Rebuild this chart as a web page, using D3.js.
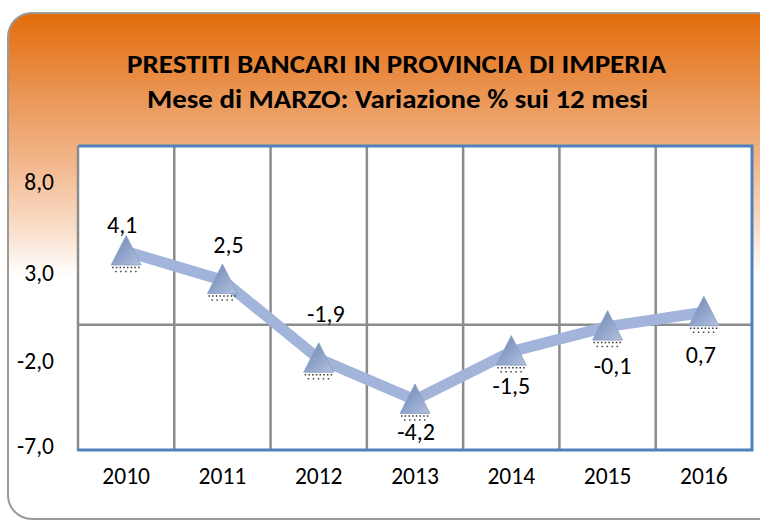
<!DOCTYPE html>
<html>
<head>
<meta charset="utf-8">
<script src="https://cdn.jsdelivr.net/npm/d3@7"></script>
<style>
  html, body { margin: 0; padding: 0; background: #ffffff; }
  svg { display: block; }
</style>
</head>
<body>
<svg id="chart" width="760" height="525"></svg>
<script>
// Annual change (%) of bank loans, month of March
const years = ["2010", "2011", "2012", "2013", "2014", "2015", "2016"];
const values = [4.1, 2.5, -1.9, -4.2, -1.5, -0.1, 0.7];
const yTicks = [-7, -2, 3, 8];
const titleLines = ["PRESTITI BANCARI IN PROVINCIA DI IMPERIA", "Mese di MARZO: Variazione % sui 12 mesi"];

// Data label placement relative to each point (layout only)
const labelDx = [-4, 6, 7, 1, 0, 5, -3];
const labelDy = [-19, -27, -37, 40, 42, 47, 51];

const svg = d3.select("#chart");
const fmt = v => d3.format(".1f")(v).replace(".", ",").replace("−", "-");
const FONT = "Carlito, Calibri, 'Liberation Sans', sans-serif";

const defs = svg.append("defs");
const bg = defs.append("linearGradient").attr("id", "bg").attr("x1", 0).attr("y1", 0).attr("x2", 0).attr("y2", 1);
bg.append("stop").attr("offset", "0").attr("stop-color", "#e36c0b");
bg.append("stop").attr("offset", "0.18").attr("stop-color", "#eb9a5c");
bg.append("stop").attr("offset", "0.30").attr("stop-color", "#f2b88d");
bg.append("stop").attr("offset", "0.42").attr("stop-color", "#f9dcc6");
bg.append("stop").attr("offset", "0.52").attr("stop-color", "#ffffff");
bg.append("stop").attr("offset", "1").attr("stop-color", "#ffffff");

const tri = defs.append("linearGradient").attr("id", "tri").attr("x1", 0).attr("y1", 0).attr("x2", 1).attr("y2", 1);
tri.append("stop").attr("offset", "0").attr("stop-color", "#6c84b1");
tri.append("stop").attr("offset", "0.5").attr("stop-color", "#8ea3c9");
tri.append("stop").attr("offset", "1").attr("stop-color", "#b3c2df");

// Outer panel with rounded corners
svg.append("rect")
  .attr("x", 8).attr("y", 13).attr("width", 790).attr("height", 506)
  .attr("rx", 24).attr("ry", 24)
  .attr("fill", "url(#bg)")
  .attr("stroke", "#9a9a9a").attr("stroke-width", 2);

// Title
svg.append("g").selectAll("text").data(titleLines).join("text")
  .attr("x", (d, i) => i === 0 ? 396.5 : 397.5).attr("y", (d, i) => 73 + i * 35)
  .attr("text-anchor", "middle")
  .attr("font-family", FONT)
  .attr("font-weight", "bold")
  .attr("font-size", 26)
  .attr("textLength", (d, i) => i === 0 ? 539 : 501)
  .attr("lengthAdjust", "spacingAndGlyphs")
  .attr("fill", "#000")
  .text(d => d);

// Plot area
const plot = { left: 78, right: 752, top: 146, bottom: 450 };
const x = d3.scaleBand().domain(years).range([plot.left, plot.right]);
const y = d3.scaleLinear().domain([-7, 10]).range([plot.bottom, plot.top]);

svg.append("rect")
  .attr("x", plot.left).attr("y", plot.top)
  .attr("width", plot.right - plot.left).attr("height", plot.bottom - plot.top)
  .attr("fill", "#ffffff");

// Vertical category separators
svg.append("g").selectAll("line").data(years.slice(1)).join("line")
  .attr("x1", d => x(d)).attr("x2", d => x(d))
  .attr("y1", plot.top).attr("y2", plot.bottom)
  .attr("stroke", "#8c8c8c").attr("stroke-width", 2.5);

// Category axis crossing at zero
svg.append("line")
  .attr("x1", plot.left).attr("x2", plot.right)
  .attr("y1", y(0)).attr("y2", y(0))
  .attr("stroke", "#8c8c8c").attr("stroke-width", 2.5);

// Value axis line
svg.append("line")
  .attr("x1", plot.left).attr("x2", plot.left)
  .attr("y1", plot.top).attr("y2", plot.bottom)
  .attr("stroke", "#8c8c8c").attr("stroke-width", 2.5);

// Blue frame on top, right and bottom
svg.append("path")
  .attr("d", `M${plot.left},${plot.top}H${plot.right}V${plot.bottom}H${plot.left - 1}`)
  .attr("fill", "none").attr("stroke", "#4f81bd").attr("stroke-width", 3);

// Y tick labels
const yAxis = d3.axisLeft(y).tickValues(yTicks).tickSize(0).tickPadding(0).tickFormat(fmt);
const ya = svg.append("g").attr("transform", `translate(54,0)`).call(yAxis);
ya.select(".domain").remove();
ya.selectAll("text")
  .attr("font-family", FONT)
  .attr("font-size", 23.5).attr("fill", "#000")
  .attr("dy", "0.34em");
ya.selectAll(".tick").attr("transform", d => `translate(0,${y(d) + (d === -7 ? -4 : d === 3 ? 2 : 0)})`);

// X tick labels
const xAxis = d3.axisBottom(x).tickSize(0).tickPadding(0);
const xa = svg.append("g").attr("transform", `translate(0,467)`).call(xAxis);
xa.select(".domain").remove();
xa.selectAll("text")
  .attr("font-family", FONT)
  .attr("font-size", 23.5).attr("fill", "#000");

// Series line
const cx = d => x(d) + x.bandwidth() / 2;
const line = d3.line().x((d, i) => cx(years[i])).y(d => y(d));
svg.append("path")
  .datum(values)
  .attr("d", line)
  .attr("fill", "none")
  .attr("stroke", "#a3b4da")
  .attr("stroke-width", 11)
  .attr("stroke-linejoin", "round");

// Triangle markers with dotted shadow
const markers = svg.append("g").selectAll("g").data(values).join("g")
  .attr("transform", (d, i) => `translate(${cx(years[i])},${y(d)})`);
markers.append("line")
  .attr("x1", -14).attr("x2", 15).attr("y1", 16).attr("y2", 16)
  .attr("stroke", "#333").attr("stroke-width", 1.5).attr("stroke-dasharray", "1.5,2.2");
markers.append("line")
  .attr("x1", -11).attr("x2", 12).attr("y1", 20).attr("y2", 20)
  .attr("stroke", "#444").attr("stroke-width", 1.5).attr("stroke-dasharray", "1.5,3.5");
markers.append("path")
  .attr("d", "M0,-16L15,13.5L-15,13.5Z")
  .attr("fill", "url(#tri)")
  .attr("stroke", "#8a9dc2").attr("stroke-width", 0.8)
  .attr("stroke-linejoin", "round");

// Value labels
svg.append("g").selectAll("text").data(values).join("text")
  .attr("x", (d, i) => cx(years[i]) + labelDx[i])
  .attr("y", (d, i) => y(d) + labelDy[i])
  .attr("text-anchor", "middle")
  .attr("font-family", FONT)
  .attr("font-size", 24).attr("fill", "#000")
  .text(d => fmt(d));
</script>
</body>
</html>
